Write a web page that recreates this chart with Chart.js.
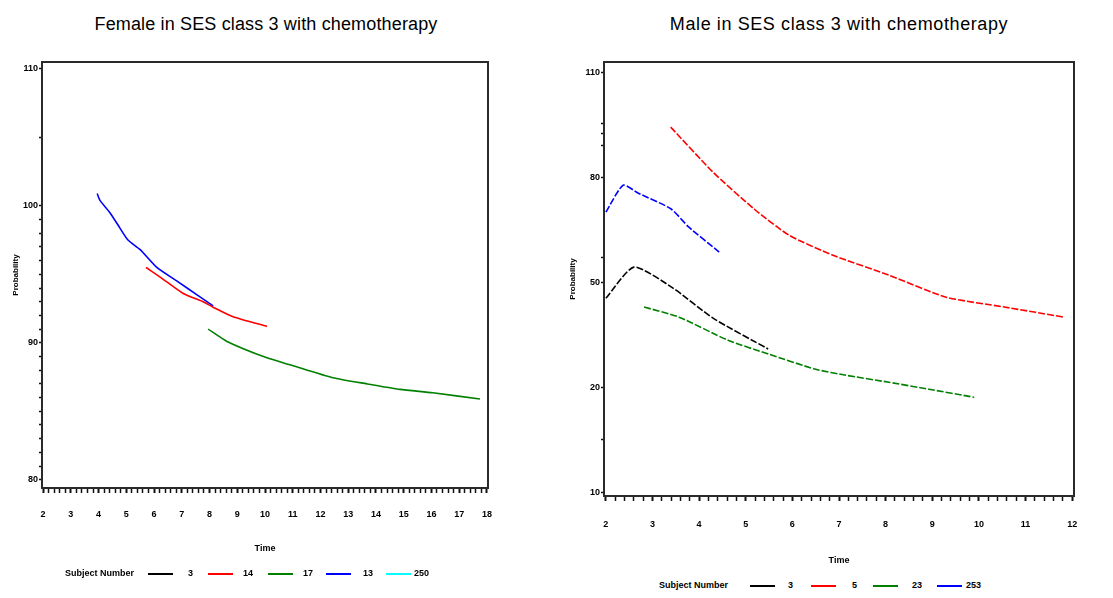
<!DOCTYPE html>
<html>
<head>
<meta charset="utf-8">
<script src="https://cdn.jsdelivr.net/npm/chart.js@4.4.1/dist/chart.umd.min.js"></script>
<style>
  html,body{margin:0;padding:0;background:#fff;}
  body{width:1113px;height:598px;position:relative;overflow:hidden;font-family:"Liberation Sans",Arial,sans-serif;}
  canvas{position:absolute;}
  .title{position:absolute;top:14px;font-size:18px;color:#000;white-space:nowrap;transform:translateX(-50%);}
  .legend{position:absolute;font-size:9px;font-weight:bold;color:#000;white-space:nowrap;height:12px;}
  .legend span{position:absolute;top:0;}
  .legend i{position:absolute;top:5px;height:2px;width:25px;}
</style>
</head>
<body>
<div class="title" id="t1" style="left:266px;letter-spacing:0.15px;"></div>
<div class="title" id="t2" style="left:839px;letter-spacing:0.6px;"></div>
<div style="position:absolute;left:0;top:40px;width:556px;height:530px;"><canvas id="c1" width="556" height="530" style="left:0;top:0;"></canvas></div>
<div style="position:absolute;left:556px;top:40px;width:557px;height:530px;"><canvas id="c2" width="557" height="530" style="left:0;top:0;"></canvas></div>
<div class="legend" id="lg1" style="left:0;top:568px;width:556px;"></div>
<div class="legend" id="lg2" style="left:556px;top:580px;width:557px;"></div>
<script>
// ---------- titles / labels ----------
const leftTitle = "Female in SES class 3 with chemotherapy";
const rightTitle = "Male in SES class 3 with chemotherapy";
const xAxisTitle = "Time";
const yAxisTitle = "Probability";
const legendTitle = "Subject Number";

// ---------- left panel (female) ----------
const leftSubjects = ["3", "14", "17", "13", "250"];
const leftColors   = ["#000000", "#ff0000", "#008000", "#0000ff", "#00ffff"];
const leftS3   = [];
const leftS14  = [[5.71,95.5],[6.22,94.8],[7.05,93.6],[7.77,93.0],[8.13,92.6],[8.85,91.9],[10.07,91.2]];
const leftS17  = [[7.95,91.0],[8.63,90.1],[10.07,88.9],[10.9,88.4],[12.45,87.45],[13.68,87.0],[14.87,86.6],[16.05,86.35],[17.75,85.9]];
const leftS13  = [[3.95,100.9],[4.05,100.4],[4.41,99.5],[4.7,98.6],[5.06,97.5],[5.5,96.8],[6.1,95.5],[6.83,94.5],[7.55,93.5],[8.13,92.7]];
const leftS250 = [];
const leftXTickLabels = [2,3,4,5,6,7,8,9,10,11,12,13,14,15,16,17,18];
const leftYTickLabels = [110,100,90,80];
const leftYMinorTicks = [81,82,83,84,85,86,87,88,89,91,92,93,94,95,96,97,98,99,105];

// ---------- right panel (male) ----------
const rightSubjects = ["3", "5", "23", "253"];
const rightColors   = ["#000000", "#ff0000", "#008000", "#0000ff"];
const rightS3   = [[2.0,45.4],[2.6,54.3],[3.44,48.3],[4.3,39.7],[5.48,30.9]];
const rightS5   = [[3.39,94.3],[4.3,81.4],[5.18,70.9],[5.93,63.4],[6.87,57.7],[8.07,52.0],[9.3,45.7],[10.54,42.9],[11.83,40.0]];
const rightS23  = [[2.82,42.9],[3.57,40.0],[4.62,33.4],[5.5,29.4],[6.5,25.1],[7.15,23.4],[8.07,21.4],[8.93,19.4],[9.9,17.1]];
const rightS253 = [[2.0,70.0],[2.37,77.7],[2.7,75.4],[3.4,70.9],[3.78,65.7],[4.43,58.6]];
const rightXTickLabels = [2,3,4,5,6,7,8,9,10,11,12];
const rightYTickValues = [110,80,50,20,-10];
const rightYTickTexts  = ["110","80","50","20","10"];
const rightYMinorTicks = [95.4,92.6,89.1,57.1,5.1];

// ---------- helpers ----------
const pts = arr => arr.map(p => ({x:p[0], y:p[1]}));
const r2 = v => Math.round(v*1000)/1000;
function minorSteps(majors, step){
  const out=[];
  for(let i=0;i<majors.length-1;i++){
    for(let v=majors[i]+step; v<majors[i+1]-1e-6; v+=step) out.push(r2(v));
  }
  return out;
}
const boxPlugin = {id:'box', afterDraw(c){
  const a=c.chartArea, ctx=c.ctx; ctx.save();
  ctx.strokeStyle='#2a2a2a'; ctx.lineWidth=2;
  ctx.strokeRect(a.left,a.top,a.right-a.left,a.bottom-a.top); ctx.restore();
}};
const tickFont = {family:"Liberation Sans", size:9, weight:'bold'};

function makeChart(id, cfg){
  const majorsX = cfg.xMajors;
  const xTicks = majorsX.concat(minorSteps(majorsX, 0.2)).sort((a,b)=>a-b);
  const yTicks = cfg.yValues.concat(cfg.yMinor).sort((a,b)=>a-b);
  return new Chart(document.getElementById(id), {
    type:'line',
    data:{datasets: cfg.series.map((s,i)=>({
      label: cfg.names[i], data: pts(s), borderColor: cfg.colors[i], backgroundColor: cfg.colors[i],
      borderWidth: 1.6, pointRadius:0, tension:0.2, fill:false, borderDash: cfg.dash
    }))},
    options:{
      responsive:false, animation:false,
      layout:{padding:{top:22, right:cfg.padRight, left:0, bottom:0}},
      plugins:{legend:{display:false}, tooltip:{enabled:false}, title:{display:false}},
      scales:{
        x:{type:'linear', min:cfg.xMin, max:cfg.xMax,
           afterBuildTicks: s => { s.ticks = xTicks.map(v=>({value:v})); },
           afterFit: s => { s.height = cfg.xHeight; },
           ticks:{autoSkip:false, maxRotation:0, font:tickFont, color:'#000', padding:cfg.xPad,
                  callback: v => majorsX.includes(r2(v)) ? String(r2(v)) : ''},
           grid:{drawOnChartArea:false, tickLength:5, tickColor:'#111',
                 tickWidth: ctx => (ctx.tick && majorsX.includes(r2(ctx.tick.value))) ? 2 : 1.5},
           border:{display:false},
           title:{display:true, text:xAxisTitle, font:{family:"Liberation Sans", size:9, weight:'bold'}, color:'#000', padding:{top:0,bottom:cfg.xTitlePad}}
        },
        y:{type:'linear', min:cfg.yMin, max:cfg.yMax,
           afterBuildTicks: s => { s.ticks = yTicks.map(v=>({value:v})); },
           afterFit: s => { s.width = cfg.yWidth; },
           ticks:{autoSkip:false, font:tickFont, color:'#000', padding:1,
                  callback: v => { const k = cfg.yValues.indexOf(r2(v)); return k>=0 ? cfg.yTexts[k] : ''; }},
           grid:{drawOnChartArea:false, tickLength:3, tickColor:'#111', tickWidth:1.5},
           border:{display:false},
           title:{display:true, text:yAxisTitle, font:{family:"Liberation Sans", size:8, weight:'bold'}, color:'#000', padding:{top:cfg.yTitlePad,bottom:0}}
        }
      }
    },
    plugins:[boxPlugin]
  });
}

makeChart('c1', {
  series:[leftS3,leftS14,leftS17,leftS13,leftS250], names:leftSubjects, colors:leftColors, dash:[],
  xMajors:leftXTickLabels, xMin:1.96, xMax:18.04,
  yValues:leftYTickLabels, yTexts:leftYTickLabels.map(String), yMinor:leftYMinorTicks, yMin:79.4, yMax:110.5,
  padRight:68, xHeight:82, yWidth:42, xPad:16, xTitlePad:16, yTitlePad:11
});
makeChart('c2', {
  series:[rightS3,rightS5,rightS23,rightS253], names:rightSubjects, colors:rightColors, dash:[7,2],
  xMajors:rightXTickLabels, xMin:1.96, xMax:12.04,
  yValues:rightYTickValues, yTexts:rightYTickTexts, yMinor:rightYMinorTicks, yMin:-11.1, yMax:112.9,
  padRight:39, xHeight:74, yWidth:48, xPad:18, xTitlePad:4, yTitlePad:12
});

// ---------- titles & legends ----------
document.getElementById('t1').textContent = leftTitle;
document.getElementById('t2').textContent = rightTitle;
function legend(id, names, colors, titleX, items){
  const el = document.getElementById(id);
  const t = document.createElement('span'); t.textContent = legendTitle; t.style.left = titleX+'px'; el.appendChild(t);
  names.forEach((n,i)=>{
    const line = document.createElement('i'); line.style.left = items[i][0]+'px'; line.style.background = colors[i]; el.appendChild(line);
    const s = document.createElement('span'); s.textContent = n; s.style.left = items[i][1]+'px'; el.appendChild(s);
  });
}
legend('lg1', leftSubjects, leftColors, 65, [[148,188],[208,243],[268,303],[326,363],[386,414]]);
legend('lg2', rightSubjects, rightColors, 103, [[194,232],[255,296],[317,356],[381,410]]);
</script>
</body>
</html>
